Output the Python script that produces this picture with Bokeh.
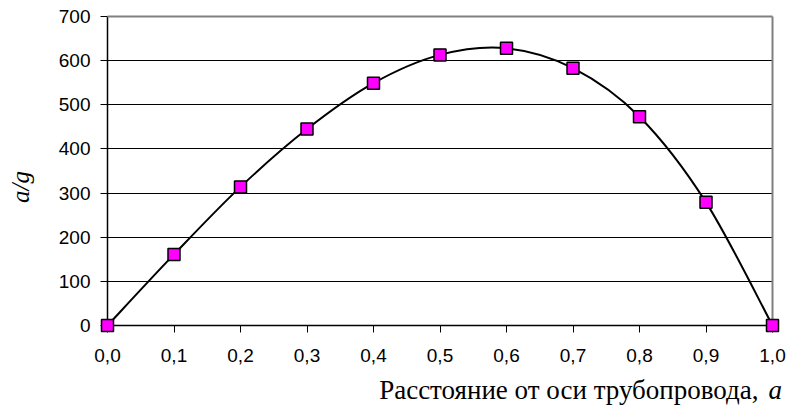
import numpy as np
from bokeh.plotting import figure
from bokeh.models import FixedTicker, CustomJSTickFormatter
from bokeh.core.properties import value
from bokeh.embed import file_html
from bokeh.resources import INLINE

# ---- data ----
x_vals = [0.0, 0.1, 0.2, 0.3, 0.4, 0.5, 0.6, 0.7, 0.8, 0.9, 1.0]
y_vals = [0, 161, 314, 445, 549, 613, 628, 583, 473, 279, 0]
x_ticks = [0.0, 0.1, 0.2, 0.3, 0.4, 0.5, 0.6, 0.7, 0.8, 0.9, 1.0]
y_ticks = [0, 100, 200, 300, 400, 500, 600, 700]
x_title = "Расстояние от оси трубопровода,"
x_title_var = "a"
y_title = "a/g"

# ---- layout ----
W, H = 790, 409
BL, BR, BT, BB = 107, 18, 16, 84
frame_w = W - BL - BR
frame_h = H - BT - BB
sx = frame_w / (x_ticks[-1] - x_ticks[0])
sy = frame_h / (y_ticks[-1] - y_ticks[0])


def dx(px):
    return x_ticks[0] + (px - BL) / sx


def dy(py):
    return y_ticks[0] + (BT + frame_h - py) / sy


p = figure(width=W, height=H, output_backend="svg", toolbar_location=None,
           x_range=(x_ticks[0], x_ticks[-1]), y_range=(y_ticks[0], y_ticks[-1]),
           min_border_left=BL, min_border_right=BR,
           min_border_top=BT, min_border_bottom=BB)
p.outline_line_color = None
p.background_fill_color = "white"
p.border_fill_color = "white"
p.xgrid.visible = False
p.ygrid.ticker = FixedTicker(ticks=y_ticks[1:-1])
p.ygrid.grid_line_color = "black"
p.ygrid.grid_line_width = 1

# plot-area border (top and right)
p.segment(x0=[x_ticks[0], x_ticks[-1]], y0=[y_ticks[-1], y_ticks[0]],
          x1=[x_ticks[-1], x_ticks[-1]], y1=[y_ticks[-1], y_ticks[-1]],
          line_color="#808080", line_width=2, level="overlay")

# smoothed line (Bezier segments with Catmull-Rom control points)
pts = np.column_stack([np.array(x_vals, float), np.array(y_vals, float)])
prev = np.vstack([pts[:1], pts[:-1]])
nxt = np.vstack([pts[1:], pts[-1:]])
tang = (nxt - prev) / 6.0
c0 = pts[:-1] + tang[:-1]
c1 = pts[1:] - tang[1:]
p.bezier(x0=pts[:-1, 0], y0=pts[:-1, 1], x1=pts[1:, 0], y1=pts[1:, 1],
         cx0=c0[:, 0], cy0=c0[:, 1], cx1=c1[:, 0], cy1=c1[:, 1],
         line_color="black", line_width=2, level="overlay")

p.scatter(x_vals, y_vals, marker="square", size=12, fill_color="#FF00FF",
          line_color="black", line_width=1.5, level="overlay")

# axes
xa = p.xaxis[0]
ya = p.yaxis[0]
xa.ticker = FixedTicker(ticks=x_ticks)
ya.ticker = FixedTicker(ticks=y_ticks)
xa.formatter = CustomJSTickFormatter(code="return tick.toFixed(1).replace('.', ',');")
for ax in (xa, ya):
    ax.axis_line_color = "black"
    ax.axis_line_width = 1.5
    ax.major_tick_line_color = "black"
    ax.major_tick_line_width = 1
    ax.major_tick_out = 7
    ax.major_tick_in = 0
    ax.minor_tick_line_color = None
    ax.major_label_text_font = "Liberation Sans"
    ax.major_label_text_font_size = "19px"
    ax.major_label_text_color = "black"
xa.major_label_standoff = 16
ya.major_label_standoff = 10

# axis titles (text glyphs on the overlay level, so they are not clipped)
serif = value("Liberation Serif")
title_y = dy(389.5)
p.text(x=[dx(758)], y=[title_y], text=[x_title], text_align="right",
       text_baseline="alphabetic", text_font=serif, text_font_size="27px",
       text_color="black", level="overlay")
p.text(x=[dx(768)], y=[title_y], text=[x_title_var], text_align="left",
       text_baseline="alphabetic", text_font=serif, text_font_style="italic",
       text_font_size="27px", text_color="black", level="overlay")
p.text(x=[dx(19.5)], y=[dy(186.5)], text=[y_title], angle=np.pi / 2,
       text_align="center", text_baseline="middle", text_font=serif,
       text_font_style="italic", text_font_size="25px", text_color="black",
       level="overlay")

open("out.html", "w").write(file_html(p, INLINE))
